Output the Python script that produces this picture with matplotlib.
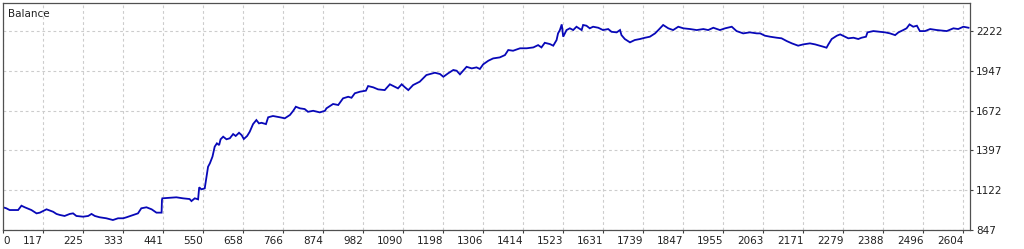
import numpy as np
import matplotlib
matplotlib.use("Agg")
import matplotlib.pyplot as plt

# balance curve (trade number, balance)
trades = [0, 9, 18, 41, 50, 59, 77, 91, 100, 118, 136, 145, 154, 167, 181, 190, 199, 217, 231, 240,
          249, 262, 280, 298, 312, 326, 335, 353, 366, 375, 389, 403, 416, 430, 431, 432,
          452, 470, 488, 506, 511, 520, 529, 532, 538, 547, 556, 561, 568, 574, 580, 586, 590, 597,
          606, 615, 624, 631, 640, 647, 653, 662, 669, 678, 687, 694, 701, 713, 719, 732, 751, 764,
          778, 787, 794, 805, 818, 827, 841, 859, 873,
          877, 895, 909, 922, 936, 945, 954, 968, 984, 990, 1004, 1017, 1035, 1049, 1062, 1071, 1081,
          1090, 1099, 1112, 1130, 1148, 1171, 1185, 1194, 1207, 1221, 1230, 1239, 1257, 1271, 1284,
          1293, 1302, 1316, 1329, 1347, 1361, 1370, 1383, 1402, 1420, 1438, 1451, 1460, 1469, 1483,
          1492, 1501, 1505, 1510, 1515, 1519, 1528, 1537,
          1546, 1555, 1569, 1573, 1582, 1591, 1600, 1614, 1627, 1641, 1650, 1664, 1673, 1677, 1686,
          1700, 1713, 1727, 1741, 1754, 1768, 1777, 1790, 1804, 1817, 1831, 1845, 1863, 1881, 1899,
          1912, 1926, 1944, 1958, 1976, 1989, 2007, 2025, 2044,
          2053, 2066, 2080, 2098, 2111, 2125, 2139, 2156, 2170, 2188, 2202, 2215, 2224, 2233, 2238,
          2247, 2261, 2270, 2283, 2292, 2306, 2319, 2328, 2340, 2344, 2360, 2378, 2392, 2405, 2419,
          2428, 2441, 2450, 2458, 2468, 2478, 2486, 2500, 2514, 2532, 2559, 2577, 2590, 2604, 2618]
balance = [1004, 997, 985, 985, 1015, 1004, 985, 962, 967, 990, 973, 958, 951, 944, 958, 962, 944, 939, 944, 958,
           944, 935, 928, 916, 928, 928, 935, 951, 962, 997, 1004, 990, 967, 967, 1054, 1066,
           1070, 1073, 1066, 1061, 1047, 1066, 1059, 1142, 1128, 1135, 1284, 1308, 1354, 1423, 1446, 1434, 1474, 1492,
           1474, 1481, 1510, 1497, 1519, 1503, 1476, 1497, 1526, 1579, 1607, 1584, 1588, 1579, 1626, 1635, 1626, 1619,
           1642, 1671, 1699, 1688, 1683, 1664, 1671, 1660, 1671,
           1688, 1718, 1711, 1757, 1768, 1761, 1792, 1803, 1810, 1842, 1833, 1819, 1814, 1854, 1837, 1826, 1854,
           1833, 1814, 1849, 1872, 1918, 1934, 1925, 1906, 1930, 1953, 1948, 1923, 1975, 1964, 1971,
           1960, 1992, 2017, 2033, 2040, 2056, 2091, 2086, 2103, 2103, 2109, 2125, 2109, 2141, 2132,
           2121, 2160, 2206, 2229, 2268, 2183, 2229, 2241,
           2229, 2252, 2229, 2264, 2259, 2241, 2252, 2245, 2229, 2236, 2217, 2213, 2229, 2194, 2167,
           2144, 2160, 2167, 2176, 2183, 2206, 2229, 2264, 2241, 2229, 2252, 2241, 2236, 2229, 2236,
           2229, 2245, 2229, 2241, 2252, 2222, 2206, 2213, 2206,
           2206, 2190, 2183, 2176, 2172, 2153, 2137, 2121, 2130, 2137, 2130, 2121, 2114, 2107, 2130,
           2167, 2190, 2199, 2183, 2172, 2176, 2167, 2176, 2183, 2213, 2222, 2217, 2213, 2206, 2194,
           2213, 2229, 2241, 2268, 2252, 2259, 2222, 2222, 2236, 2229, 2222, 2241, 2236, 2252, 2245]

xtick_labels = ["0", "117", "225", "333", "441", "550", "658", "766", "874", "982", "1090", "1198",
                "1306", "1414", "1523", "1631", "1739", "1847", "1955", "2063", "2171", "2279",
                "2388", "2496", "2604"]
ytick_values = [847, 1122, 1397, 1672, 1947, 2222]

fig = plt.figure(figsize=(10.24, 2.49), dpi=100)
ax = fig.add_axes([3 / 1024, 19 / 249, 967 / 1024, 227 / 249])

ax.plot(trades, balance, color="#0808b8", lw=1.3, solid_joinstyle="miter")

ax.set_xlim(0, 2622)
ax.set_ylim(847, 2416)

xpos = np.arange(len(xtick_labels)) * 108.5
ax.set_xticks(xpos)
ax.set_xticklabels(xtick_labels)
for i, t in enumerate(ax.get_xticklabels()):
    t.set_ha("left" if i == 0 else "right")

ax.yaxis.tick_right()
ax.set_yticks(ytick_values)
ax.set_yticklabels([str(v) for v in ytick_values])

ax.tick_params(axis="both", length=2.5, width=0.8, color="#404040", labelsize=7.5,
               labelcolor="#202020")
ax.tick_params(axis="x", pad=2)
ax.tick_params(axis="y", pad=2)

ax.grid(True, color="#cccccc", linestyle=(0, (2.5, 2.5)), linewidth=0.8)
ax.set_axisbelow(True)
for s in ax.spines.values():
    s.set_color("#505050")
    s.set_linewidth(0.9)

ax.text(0.005, 0.951, "Balance", transform=ax.transAxes, fontsize=7.5,
        color="#202020", ha="left", va="center")

fig.savefig("out.png", dpi=100, facecolor="white")
